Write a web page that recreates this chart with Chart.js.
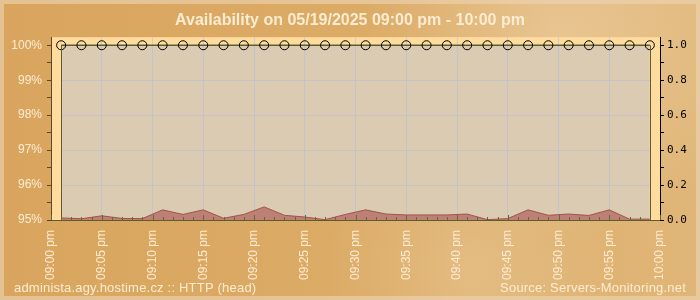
<!DOCTYPE html>
<html>
<head>
<meta charset="utf-8">
<script src="https://cdn.jsdelivr.net/npm/chart.js@4.4.1/dist/chart.umd.min.js"></script>
<style>
  html, body { margin: 0; padding: 0; background: #dcaa64; }
</style>
</head>
<body>
<canvas id="availChart" width="700" height="300"></canvas>
<script>
// minutes after 09:00 pm at which the check ran
const sampleMinutes = [1, 3, 5, 7, 9, 11, 13, 15, 17, 19, 21, 23, 25, 27, 29,
                       31, 33, 35, 37, 39, 41, 43, 45, 47, 49, 51, 53, 55, 57, 59];
const availability = [100, 100, 100, 100, 100, 100, 100, 100, 100, 100, 100, 100, 100, 100, 100,
                      100, 100, 100, 100, 100, 100, 100, 100, 100, 100, 100, 100, 100, 100, 100];
const responseTime = [0.012, 0.007, 0.024, 0.009, 0.008, 0.058, 0.032, 0.058, 0.010, 0.032,
                      0.075, 0.027, 0.017, 0.002, 0.032, 0.058, 0.034, 0.029, 0.029, 0.029,
                      0.034, 0.002, 0.008, 0.058, 0.027, 0.034, 0.026, 0.058, 0.005, 0.005];
const timeLabels = ["09:00 pm", "09:05 pm", "09:10 pm", "09:15 pm", "09:20 pm", "09:25 pm", "09:30 pm",
                    "09:35 pm", "09:40 pm", "09:45 pm", "09:50 pm", "09:55 pm", "10:00 pm"];
const percentTicks = [95, 95.5, 96, 96.5, 97, 97.5, 98, 98.5, 99, 99.5, 100];
const rightTicks = [0, 0.1, 0.2, 0.3, 0.4, 0.5, 0.6, 0.7, 0.8, 0.9, 1.0];

const titleText = "Availability on 05/19/2025 09:00 pm - 10:00 pm";
const footerLeft = "administa.agy.hostime.cz :: HTTP (head)";
const footerRight = "Source: Servers-Monitoring.net";

const CREAM = "#fcecd2";
const OLIVE = "#5d5e2e";
const GRID = "#cdcbcf";

// background, outer frame and the yellow plot frame
const backdrop = {
    id: "backdrop",
    beforeDraw(chart) {
        const ctx = chart.ctx, w = chart.width, h = chart.height, a = chart.chartArea;
        ctx.save();
        let g = ctx.createLinearGradient(0, 0, w, 0);
        g.addColorStop(0, "#d9a55e");
        g.addColorStop(0.6, "#dcac67");
        g.addColorStop(1, "#e0b678");
        ctx.fillStyle = g;
        ctx.fillRect(0, 0, w, h);
        let r = ctx.createRadialGradient(560, 40, 10, 560, 40, 200);
        r.addColorStop(0, "rgba(255,240,220,0.3)");
        r.addColorStop(1, "rgba(255,240,220,0)");
        ctx.fillStyle = r;
        ctx.fillRect(0, 0, w, h);
        r = ctx.createRadialGradient(470, 270, 10, 470, 270, 150);
        r.addColorStop(0, "rgba(255,240,220,0.2)");
        r.addColorStop(1, "rgba(255,240,220,0)");
        ctx.fillStyle = r;
        ctx.fillRect(0, 0, w, h);
        ctx.strokeStyle = "rgba(236,214,182,0.6)";
        ctx.lineWidth = 4;
        ctx.strokeRect(2, 2, w - 4, h - 4);
        ctx.fillStyle = "#ffdc9e";
        ctx.fillRect(a.left, a.top, a.right - a.left, a.bottom - a.top);
        ctx.restore();
    },
    beforeDatasetsDraw(chart) {
        // horizontal grid only across the sampled span
        const ctx = chart.ctx, x = chart.scales.x, y = chart.scales.y;
        const x0 = x.getPixelForValue(sampleMinutes[0]);
        const x1 = x.getPixelForValue(sampleMinutes[sampleMinutes.length - 1]);
        ctx.save();
        ctx.strokeStyle = GRID;
        ctx.lineWidth = 1;
        [96, 97, 98, 99].forEach(v => {
            const py = Math.round(y.getPixelForValue(v)) + 0.5;
            ctx.beginPath();
            ctx.moveTo(x0, py);
            ctx.lineTo(x1, py);
            ctx.stroke();
        });
        ctx.restore();
    },
    afterDatasetsDraw(chart) {
        const ctx = chart.ctx, x = chart.scales.x, y = chart.scales.y, a = chart.chartArea;
        ctx.save();
        ctx.strokeStyle = OLIVE;
        ctx.lineWidth = 1;
        const top = y.getPixelForValue(availability[0]);
        [sampleMinutes[0], sampleMinutes[sampleMinutes.length - 1]].forEach(m => {
            const px = Math.round(x.getPixelForValue(m)) + 0.5;
            ctx.beginPath();
            ctx.moveTo(px, top);
            ctx.lineTo(px, a.bottom);
            ctx.stroke();
        });
        // minute ticks pointing up from the time axis
        ctx.strokeStyle = "#5f6a34";
        for (let m = 0; m <= 60; m++) {
            const px = Math.round(x.getPixelForValue(m)) + 0.5;
            const len = m % 5 === 0 ? 5 : 3;
            ctx.beginPath();
            ctx.moveTo(px, a.bottom);
            ctx.lineTo(px, a.bottom - len);
            ctx.stroke();
        }
        ctx.restore();
    },
    afterDraw(chart) {
        const ctx = chart.ctx;
        ctx.save();
        ctx.font = "13px 'Liberation Sans', Arial, sans-serif";
        ctx.letterSpacing = "0.2px";
        ctx.fillStyle = CREAM;
        ctx.textBaseline = "alphabetic";
        ctx.textAlign = "left";
        ctx.fillText(footerLeft, 14, 292);
        ctx.textAlign = "right";
        ctx.fillText(footerRight, 686, 292);
        ctx.restore();
    }
};

new Chart(document.getElementById("availChart"), {
    type: "line",
    data: {
        datasets: [
            {
                label: "Response time",
                yAxisID: "y2",
                data: sampleMinutes.map((m, i) => ({ x: m, y: responseTime[i] })),
                borderColor: "rgb(160,84,74)",
                borderWidth: 1,
                backgroundColor: "rgb(188,128,116)",
                fill: "start",
                pointRadius: 0,
                tension: 0
            },
            {
                label: "Availability",
                yAxisID: "y",
                data: sampleMinutes.map((m, i) => ({ x: m, y: availability[i] })),
                borderColor: OLIVE,
                borderWidth: 1.5,
                backgroundColor: "rgba(192,190,196,0.55)",
                fill: "start",
                pointRadius: 4.5,
                pointBorderColor: "#000",
                pointBorderWidth: 1,
                pointBackgroundColor: "rgba(0,0,0,0)",
                tension: 0
            }
        ]
    },
    options: {
        responsive: false,
        animation: false,
        layout: { padding: { left: 0, right: 0, top: 0, bottom: 0 } },
        plugins: {
            legend: { display: false },
            tooltip: { enabled: false },
            title: {
                display: true,
                text: titleText,
                color: CREAM,
                font: { family: "'Liberation Sans', Arial, sans-serif", size: 16, weight: "bold", lineHeight: 1.2 },
                padding: { top: 11, bottom: 7 }
            }
        },
        scales: {
            x: {
                type: "linear",
                min: 0,
                max: 60,
                afterBuildTicks: s => { s.ticks = timeLabels.map((t, i) => ({ value: i * 5 })); },
                afterFit: s => { s.height = 80; },
                ticks: {
                    callback: (v, i) => timeLabels[i],
                    autoSkip: false,
                    maxRotation: 90,
                    minRotation: 90,
                    color: CREAM,
                    padding: 10,
                    font: { family: "'Liberation Sans', Arial, sans-serif", size: 12 }
                },
                grid: { color: GRID, drawTicks: false },
                border: { color: OLIVE, width: 1 }
            },
            y: {
                position: "left",
                min: 95,
                max: 100.23,
                afterBuildTicks: s => { s.ticks = percentTicks.map(v => ({ value: v })); },
                afterFit: s => { s.width = 51; },
                ticks: {
                    callback: v => Number.isInteger(v) ? v + "%" : "",
                    autoSkip: false,
                    color: CREAM,
                    padding: 5,
                    font: { family: "'Liberation Sans', Arial, sans-serif", size: 12 }
                },
                grid: { drawOnChartArea: false, tickLength: 4, color: "#5a4828", tickColor: "#5a4828" },
                border: { color: "#5a4828", width: 1 }
            },
            y2: {
                position: "right",
                min: 0,
                max: 1.046,
                afterBuildTicks: s => { s.ticks = rightTicks.map(v => ({ value: v })); },
                afterFit: s => { s.width = 40; },
                ticks: {
                    callback: v => Math.round(v * 10) % 2 === 0 ? v.toFixed(1) : "",
                    autoSkip: false,
                    color: "#000",
                    padding: 3,
                    font: { family: "'DejaVu Sans Mono', monospace", size: 11 }
                },
                grid: { drawOnChartArea: false, tickLength: 4, color: "#000", tickColor: "#000" },
                border: { color: "#000", width: 1 }
            }
        }
    },
    plugins: [backdrop]
});
</script>
</body>
</html>
